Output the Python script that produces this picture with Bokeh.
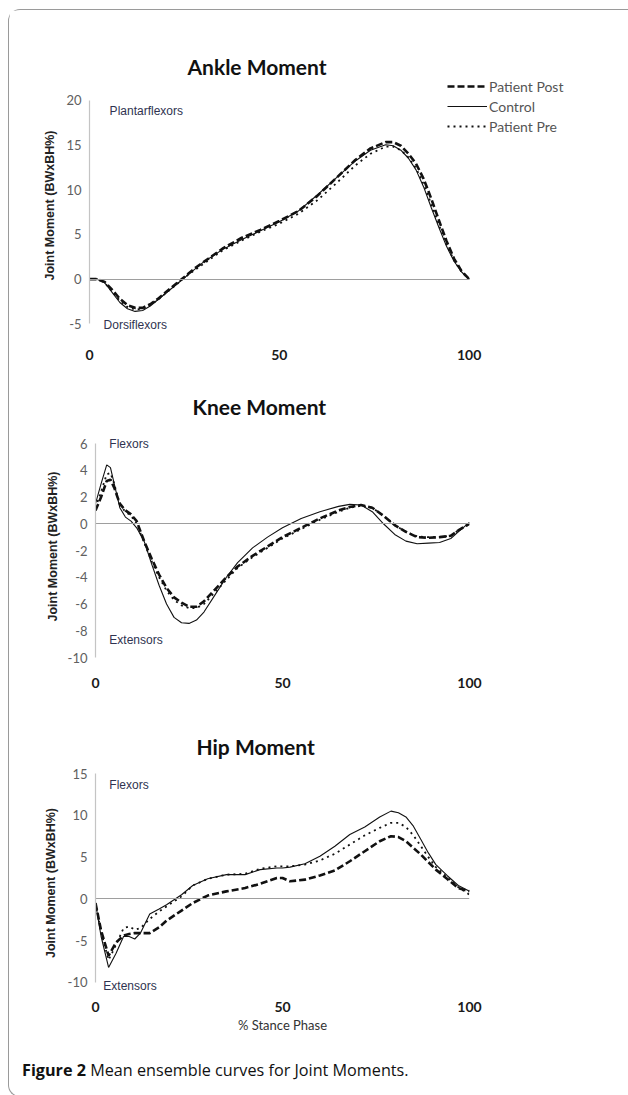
from bokeh.plotting import figure
from bokeh.models import (Legend, LegendItem, Label, FixedTicker, Div, Range1d, LinearAxis,
                          Spacer, CustomJSTickFormatter)
from bokeh.layouts import column, row
from bokeh.embed import file_html
from bokeh.resources import INLINE

# ---------------- data ----------------
series_names = ["Patient Post", "Control", "Patient Pre"]
x_ticks = [0, 50, 100]

ankle_x = [0, 2, 4, 6, 8, 10, 12, 14, 16, 18, 20, 22, 24, 26, 28, 30, 35, 40, 45, 50,
           55, 60, 65, 70, 74, 78, 80, 82, 84, 86, 88, 90, 92, 94, 96, 98, 100]
ankle_post = [0, 0, -0.3, -1.2, -2.2, -2.9, -3.2, -3.2, -2.8, -2.2, -1.5, -0.8, -0.1, 0.6, 1.3, 1.9,
              3.4, 4.6, 5.5, 6.5, 7.6, 9.3, 11.3, 13.3, 14.6, 15.3, 15.3, 14.9, 14.0, 12.9, 11.2,
              9.0, 6.6, 4.3, 2.3, 0.9, 0.0]
ankle_control = [0, 0, -0.4, -1.5, -2.6, -3.3, -3.6, -3.5, -3.0, -2.3, -1.6, -0.9, -0.2, 0.5, 1.2, 1.9,
                 3.3, 4.4, 5.4, 6.4, 7.6, 9.4, 11.3, 13.2, 14.4, 15.0, 14.9, 14.4, 13.5, 12.2, 10.3,
                 8.0, 5.8, 3.7, 2.0, 0.8, 0.0]
ankle_pre = [0, 0, -0.4, -1.4, -2.4, -3.1, -3.4, -3.3, -2.9, -2.3, -1.6, -0.9, -0.2, 0.5, 1.1, 1.7,
             3.2, 4.3, 5.3, 6.2, 7.3, 8.8, 10.7, 12.7, 14.0, 14.8, 14.8, 14.4, 13.6, 12.4, 10.6,
             8.4, 6.1, 3.9, 2.1, 0.8, 0.0]
ankle_ticks = [-5, 0, 5, 10, 15, 20]
ankle_notes = ["Plantarflexors", "Dorsiflexors"]
ankle_note_x = [5.3, 3.7]
ankle_note_y = [18.8, -5.1]

knee_x = [0, 1.5, 3, 4, 5, 6.5, 8, 9.5, 11, 13, 15, 17, 19, 21, 23, 25, 27, 29, 32, 35, 38,
          42, 46, 50, 55, 60, 65, 68, 71, 74, 77, 80, 83, 86, 89, 92, 95, 97, 100]
knee_post = [1.0, 2.0, 3.2, 3.3, 2.7, 1.5, 1.0, 0.7, 0.2, -1.3, -2.6, -3.8, -4.8, -5.5, -5.9, -6.2,
             -6.2, -5.8, -4.9, -4.0, -3.2, -2.4, -1.7, -1.0, -0.3, 0.4, 1.0, 1.25, 1.4, 1.2, 0.6,
             -0.1, -0.6, -1.0, -1.05, -1.0, -0.9, -0.5, 0.0]
knee_control = [1.5, 3.0, 4.4, 4.2, 3.0, 1.2, 0.5, 0.2, -0.3, -1.3, -3.0, -4.6, -6.0, -7.0, -7.4,
                -7.45, -7.2, -6.6, -5.3, -4.0, -2.9, -1.8, -1.0, -0.3, 0.4, 0.9, 1.3, 1.45, 1.4,
                0.9, 0.0, -0.8, -1.3, -1.5, -1.45, -1.4, -1.1, -0.6, 0.1]
knee_pre = [1.2, 2.4, 3.7, 3.8, 3.0, 1.4, 0.9, 0.6, 0.0, -1.4, -2.8, -4.0, -5.0, -5.7, -6.1, -6.3,
            -6.3, -6.0, -5.1, -4.2, -3.3, -2.5, -1.8, -1.1, -0.4, 0.3, 0.9, 1.2, 1.35, 1.2, 0.6,
            -0.1, -0.6, -0.95, -1.0, -1.0, -0.9, -0.5, 0.0]
knee_ticks = [-10, -8, -6, -4, -2, 0, 2, 4, 6]
knee_notes = ["Flexors", "Extensors"]
knee_note_x = [3.7, 3.7]
knee_note_y = [6.0, -8.7]

hip_x = [0, 1.5, 3.5, 5.5, 7.5, 9, 10.5, 12, 14.5, 17, 19, 23, 26, 30, 35, 40, 44, 48.5, 50,
         52, 56, 60, 64, 68, 72, 76, 79, 81, 83, 85, 87, 89, 91, 94, 97, 100]
hip_post = [-0.5, -3.8, -6.8, -5.2, -4.4, -4.2, -4.1, -4.1, -4.1, -3.4, -2.6, -1.4, -0.5, 0.4, 0.9,
            1.3, 1.8, 2.5, 2.5, 2.1, 2.3, 2.8, 3.4, 4.5, 5.7, 6.9, 7.5, 7.4, 6.9, 6.1, 5.3, 4.4,
            3.5, 2.4, 1.3, 0.9]
hip_control = [-0.5, -4.5, -8.2, -6.5, -4.5, -4.5, -4.8, -4.1, -1.8, -1.2, -0.7, 0.5, 1.6, 2.4,
               2.9, 2.9, 3.5, 3.7, 3.7, 3.8, 4.2, 5.1, 6.3, 7.7, 8.6, 9.8, 10.5, 10.3, 9.8, 8.7,
               7.1, 5.5, 4.1, 2.8, 1.6, 0.9]
hip_pre = [-0.5, -4.0, -7.3, -5.5, -3.5, -3.3, -3.7, -3.5, -2.4, -1.5, -0.9, 0.3, 1.6, 2.4, 2.9,
           3.0, 3.6, 3.9, 3.9, 3.9, 4.1, 4.6, 5.4, 6.5, 7.6, 8.5, 9.1, 9.1, 8.6, 7.6, 6.3, 5.0,
           3.8, 2.6, 1.4, 0.5]
hip_ticks = [-10, -5, 0, 5, 10, 15]
hip_notes = ["Flexors", "Extensors"]
hip_note_x = [3.7, 2.1]
hip_note_y = [13.6, -10.4]

# ---------------- styling ----------------
TOTAL_W = 608
B_LEFT = 80
NOTE_FONT = "'Liberation Sans Narrow', 'Arial Narrow', 'Liberation Sans', sans-serif"
styles = {
    "Patient Post": dict(line_color="#111111", line_width=2.6, line_dash="7 3"),
    "Control": dict(line_color="#111111", line_width=1.1),
    "Patient Pre": dict(line_color="#111111", line_width=1.8, line_dash="2 4"),
}


def make_fig(title, x, ys, yticks, ylo, yhi, view_lo, view_hi, x_hi, notes, note_x, note_y,
             fig_w, frame_w, frame_h, b_top, b_bottom, t_standoff, t_offset, x_standoff,
             ylab_standoff, legend=False, xlabel=None):
    p = figure(frame_width=frame_w, frame_height=frame_h, output_backend="svg",
               toolbar_location=None,
               x_range=Range1d(0, x_hi), y_range=Range1d(view_lo, view_hi),
               min_border_left=B_LEFT, min_border_right=fig_w - B_LEFT - frame_w,
               min_border_top=b_top, min_border_bottom=b_bottom,
               title=title)
    p.outline_line_color = None
    p.background_fill_color = "white"
    p.border_fill_color = "white"
    p.xgrid.visible = False
    p.ygrid.visible = False
    p.title.text_font = "Lato"
    p.title.text_font_style = "bold"
    p.title.text_font_size = "21px"
    p.title.text_color = "#111111"
    p.title.align = "left"
    p.title.offset = t_offset
    p.title.standoff = t_standoff

    p.yaxis.ticker = FixedTicker(ticks=yticks)
    p.yaxis.formatter = CustomJSTickFormatter(code="return String(tick)")
    p.yaxis.bounds = (ylo, yhi)
    p.yaxis.axis_line_color = "#c4c4c4"
    p.yaxis.axis_line_width = 1.2
    p.yaxis.major_tick_line_color = None
    p.yaxis.minor_tick_line_color = None
    p.yaxis.major_tick_out = 0
    p.yaxis.major_tick_in = 0
    p.yaxis.major_label_text_font = "Lato"
    p.yaxis.major_label_text_font_size = "13px"
    p.yaxis.major_label_text_color = "#606060"
    p.yaxis.major_label_standoff = 8
    p.yaxis.axis_label = "Joint Moment (BWxBH%)"
    p.yaxis.axis_label_text_font = "Liberation Sans"
    p.yaxis.axis_label_text_font_style = "bold"
    p.yaxis.axis_label_text_font_size = "12.5px"
    p.yaxis.axis_label_text_color = "#222222"
    p.yaxis.axis_label_standoff = ylab_standoff

    p.xaxis.ticker = FixedTicker(ticks=x_ticks)
    p.xaxis.axis_line_color = None
    p.xaxis.major_tick_line_color = None
    p.xaxis.minor_tick_line_color = None
    p.xaxis.major_tick_out = 0
    p.xaxis.major_tick_in = 0
    p.xaxis.major_label_text_font = "Lato"
    p.xaxis.major_label_text_font_style = "bold"
    p.xaxis.major_label_text_font_size = "14px"
    p.xaxis.major_label_text_color = "#1a1a1a"
    p.xaxis.major_label_standoff = x_standoff
    if xlabel:
        p.xaxis.axis_label = xlabel
        p.xaxis.axis_label_text_font = "Lato"
        p.xaxis.axis_label_text_font_style = "normal"
        p.xaxis.axis_label_text_font_size = "13px"
        p.xaxis.axis_label_text_color = "#333333"
        p.xaxis.axis_label_standoff = 2
    else:
        p.xaxis.axis_label_standoff = 0

    # horizontal axis line crossing at zero (Excel style)
    zero_axis = LinearAxis(fixed_location=0, bounds=(0, 100), ticker=FixedTicker(ticks=[]),
                           axis_line_color="#9e9e9e", axis_line_width=1.2,
                           major_tick_line_color=None, minor_tick_line_color=None,
                           major_tick_out=0, major_tick_in=0, axis_label_standoff=0,
                           major_label_text_font_size="0px", major_label_standoff=0)
    p.add_layout(zero_axis, "below")

    renderers = {}
    for name, y in zip(series_names, ys):
        renderers[name] = p.line(x, y, **styles[name])

    for t, nx, ny in zip(notes, note_x, note_y):
        p.add_layout(Label(x=nx, y=ny, text=t, text_font=NOTE_FONT, text_font_size="12px",
                           text_color="#2f3350", text_baseline="middle", text_align="left"))

    if legend:
        lg = Legend(items=[LegendItem(label=n, renderers=[renderers[n]]) for n in series_names],
                    location=(358, 200), padding=0, margin=0, spacing=0,
                    glyph_width=40, glyph_height=20, label_height=20, label_standoff=2,
                    label_text_font="Lato", label_text_font_size="14px",
                    label_text_color="#555555", border_line_color=None,
                    background_fill_alpha=0)
        p.add_layout(lg, "center")
    return p


ankle = make_fig("Ankle Moment", ankle_x, [ankle_post, ankle_control, ankle_pre], ankle_ticks,
                 -5, 20, -6.4, 22.85, 128, ankle_notes, ankle_note_x, ankle_note_y,
                 TOTAL_W, 486, 262, 64, 38, -8, 98, 13, 6, legend=True)
knee = make_fig("Knee Moment", knee_x, [knee_post, knee_control, knee_pre], knee_ticks,
                -10, 6, -10, 6.6, 100, knee_notes, knee_note_x, knee_note_y,
                TOTAL_W - 6, 374, 222, 61, 58, 33, 97, 20, 5)
hip = make_fig("Hip Moment", hip_x, [hip_post, hip_control, hip_pre], hip_ticks,
               -10, 15, -11.2, 15, 100, hip_notes, hip_note_x, hip_note_y,
               TOTAL_W - 6, 374, 219, 58, 53, 29, 101, 9, 7, xlabel="% Stance Phase")

caption = Div(text="<b>Figure 2</b> Mean ensemble curves for Joint Moments.",
              width=TOTAL_W, height=41,
              styles={"font-family": "'Open Sans', sans-serif", "font-size": "16.2px",
                      "color": "#111111", "padding-left": "8px", "padding-top": "9px"})

layout = column(ankle,
                row(Spacer(width=6, height=10), knee, spacing=0),
                row(Spacer(width=6, height=10), hip, spacing=0),
                caption, spacing=0,
                styles={"border-left": "1.5px solid #9a9a9a", "border-top": "1.5px solid #9a9a9a",
                        "border-bottom": "1.5px solid #9a9a9a",
                        "border-top-left-radius": "12px", "border-bottom-left-radius": "12px",
                        "margin-top": "9px", "margin-left": "8px", "padding-right": "9px"})

open("out.html", "w").write(file_html(layout, INLINE))
